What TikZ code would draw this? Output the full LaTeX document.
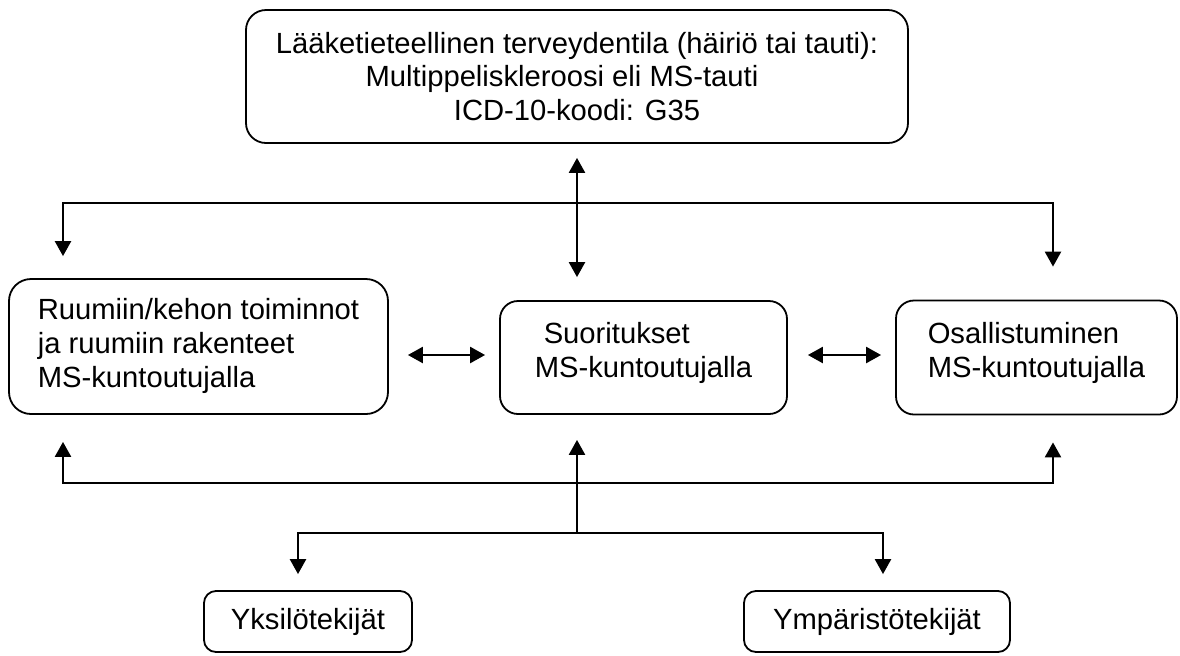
\documentclass[tikz,border=0pt]{standalone}
\usepackage{fontspec}
\setmainfont{Liberation Sans}
\usetikzlibrary{arrows.meta,calc}
\begin{document}
\begin{tikzpicture}[x=0.5pt,y=-0.5pt,
  box/.style={draw=black, line width=0.9pt, inner sep=0pt,
    font=\fontsize{14.6pt}{17pt}\selectfont},
  link/.style={line width=1.2pt, line join=miter},
  tip/.style={-{Triangle[length=7.5pt,width=8pt]}},
  tips/.style={{Triangle[length=7.5pt,width=8pt]}-{Triangle[length=7.5pt,width=8pt]}},
]
\useasboundingbox (0,0) rectangle (1180,655);

% health condition
\node[box, rounded corners=10pt, minimum width=331pt, minimum height=66.5pt,
      align=center, font=\fontsize{14.6pt}{16.75pt}\selectfont] (health) at (577,76.5)
  {Lääketieteellinen terveydentila (häiriö tai tauti):\\
   Multippeliskleroosi eli MS-tauti\makebox[15pt]{}\\
   ICD-10-koodi: G35};

% middle row
\node[box, rounded corners=11pt, minimum width=189.5pt, minimum height=67.5pt,
      align=left] (lbody) at (198.5,346.5)
  {Ruumiin/kehon toiminnot\\ja ruumiin rakenteet\\MS-kuntoutujalla\rule[-4pt]{0pt}{0pt}};
\node[box, rounded corners=9pt, minimum width=143.5pt, minimum height=56.5pt,
      align=left] (act) at (643.5,357.5)
  {\makebox[4.5pt]{}Suoritukset\\MS-kuntoutujalla\rule[-8pt]{0pt}{0pt}};
\node[box, rounded corners=9pt, minimum width=140.5pt, minimum height=57pt,
      align=left] (part) at (1036.5,357.5)
  {Osallistuminen\\MS-kuntoutujalla\rule[-8pt]{0pt}{0pt}};

% contextual factors
\node[box, rounded corners=6pt, minimum width=104pt, minimum height=30.5pt] (pers) at (308,621.5) {Yksilötekijät};
\node[box, rounded corners=6pt, minimum width=133pt, minimum height=30.5pt] (env) at (877,621.5) {Ympäristötekijät};

% helper points
\coordinate (midline) at (0,355);
\coordinate (tbL) at (63,203);
\coordinate (tbR) at (1053,203);
\coordinate (bbL) at (63,483);
\coordinate (bbR) at (1053,483);
\coordinate (fork) at (577,533);
\coordinate (fkL) at (298,533);
\coordinate (fkR) at (883,533);

% upper distribution line
\draw[link,tips] ($(tbL |- lbody.north)+(0,-22)$) -- (tbL) -- (tbR) -- ($(tbR |- part.north)+(0,-33)$);
% health condition <-> activities
\draw[link,tips] ($(health.south)+(0,14)$) -- ($(health.south |- act.north)+(0,-23)$);
% horizontal interactions
\draw[link,tips] ($(lbody.east |- midline)+(19,0)$) -- ($(act.west |- midline)+(-14,0)$);
\draw[link,tips] ($(act.east |- midline)+(20,0)$) -- ($(part.west |- midline)+(-14,0)$);
% lower collection line
\draw[link,tips] ($(bbL |- lbody.south)+(0,27)$) -- (bbL) -- (bbR) -- ($(bbR |- part.south)+(0,27)$);
% contextual factors to activities
\draw[link,tip] (fork) -- ($(fork |- act.south)+(0,25)$);
\draw[link,tips] ($(fkL |- pers.north)+(0,-16)$) -- (fkL) -- (fkR) -- ($(fkR |- env.north)+(0,-16)$);
\end{tikzpicture}
\end{document}
